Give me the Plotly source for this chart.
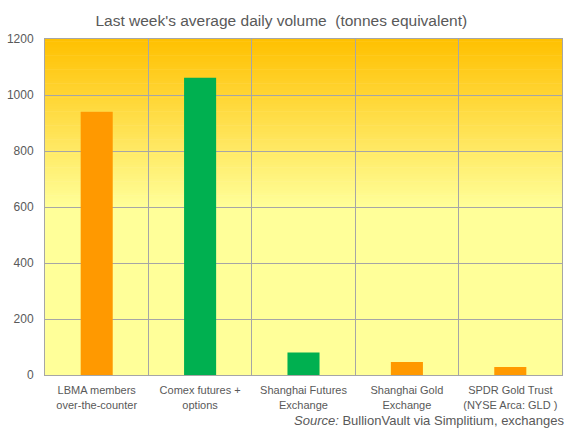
import plotly.graph_objects as go

categories = ["LBMA members<br>over-the-counter", "Comex futures +<br>options",
              "Shanghai Futures<br>Exchange", "Shanghai Gold<br>Exchange",
              "SPDR Gold Trust<br>(NYSE Arca: GLD )"]
volumes = [940, 1062, 80, 46, 29]
bar_colors = ["#FF9900", "#00B050", "#00B050", "#FF9900", "#FF9900"]
y_ticks = [0, 200, 400, 600, 800, 1000, 1200]

fig = go.Figure(go.Bar(x=categories, y=volumes, marker=dict(color=bar_colors, line=dict(width=0)),
                       hoverinfo="skip"))

# gradient background (top half orange -> light yellow)
shapes = []
top = (255, 192, 0)
bot = (255, 255, 153)
shapes.append(dict(type="rect", xref="paper", yref="paper", x0=0, x1=1, y0=0, y1=0.5,
                   fillcolor="rgb(255,255,153)", line=dict(width=0), layer="below"))
N = 60
for i in range(N):
    y0 = 0.5 + 0.5 * i / N
    y1 = 0.5 + 0.5 * (i + 1) / N
    t = (i + 0.5) / N
    c = tuple(round(bot[k] + (top[k] - bot[k]) * t) for k in range(3))
    shapes.append(dict(type="rect", xref="paper", yref="paper", x0=0, x1=1, y0=y0, y1=y1 + 0.002,
                       fillcolor="rgb(%d,%d,%d)" % c, line=dict(width=0), layer="below"))

fig.update_layout(
    width=574, height=431,
    margin=dict(l=45, r=12, t=39, b=56),
    paper_bgcolor="white",
    plot_bgcolor="rgba(0,0,0,0)",
    font=dict(family="Liberation Sans, Arial, sans-serif", color="#595959"),
    title=dict(text="Last week's average daily volume  (tonnes equivalent)",
               x=0.49, xanchor="center", y=0.953, yanchor="middle",
               font=dict(size=15.5, color="#595959")),
    bargap=0.69,
    showlegend=False,
    shapes=shapes,
    xaxis=dict(type="category", tickson="boundaries", showgrid=True, gridcolor="#A6A6A6",
               gridwidth=1, showline=True, linecolor="#A6A6A6", linewidth=1, mirror=True,
               ticks="", tickangle=0, automargin=False, ticklabelstandoff=5,
               tickfont=dict(size=11, color="#595959"), fixedrange=True),
    yaxis=dict(range=[0, 1200], tickvals=y_ticks, showgrid=True, gridcolor="#A6A6A6",
               gridwidth=1, showline=True, linecolor="#A6A6A6", linewidth=1, mirror=True,
               zeroline=False, ticks="", ticklabelstandoff=8, automargin=False,
               tickfont=dict(size=12, color="#595959"), fixedrange=True),
    annotations=[dict(text="<i>Source:</i> BullionVault via Simplitium, exchanges",
                      xref="paper", yref="paper", x=1.01, y=-0.135, xanchor="right",
                      yanchor="middle", showarrow=False,
                      font=dict(size=13, color="#595959"))],
)

fig.write_html("out.html", config={"displayModeBar": False, "staticPlot": True},
               post_script="document.body.style.margin='0';document.body.style.padding='0';"
                           "document.body.style.overflow='hidden';")
